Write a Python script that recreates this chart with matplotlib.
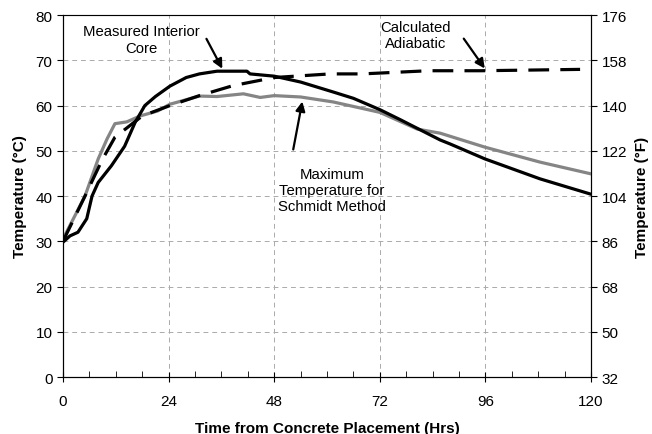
import numpy as np
import matplotlib.pyplot as plt
from matplotlib.ticker import MultipleLocator

plt.rcParams['font.family'] = ['Liberation Sans', 'DejaVu Sans']

# Measured interior core (black solid)
core_h = [0, 1.6, 3.4, 5.4, 6.6, 8, 11, 14, 16.4, 18.6, 21, 24.3, 28, 31, 35, 41.8, 42.5,
          48, 54, 61.4, 66, 72, 76.6, 85.7, 88, 95.9, 108.4, 120]
core_t = [29.8, 31.2, 32, 35, 40, 43, 46.7, 51, 56.3, 60, 62, 64.3, 66.2, 67, 67.6, 67.6, 67,
          66.5, 65.2, 63.0, 61.6, 59.1, 56.9, 52.4, 51.5, 48.2, 43.8, 40.4]

# Calculated adiabatic (black dashed)
adia_h = [0, 0.5, 5, 8.9, 11.8, 18, 24.3, 31, 38.6, 48, 60.7, 68, 83, 95, 117.5]
adia_t = [30, 31, 40, 48, 53, 57.7, 60, 62.2, 64.4, 66.2, 67, 67, 67.7, 67.7, 68]

# Maximum temperature for Schmidt method (gray)
schm_h = [0, 5, 8, 10, 11.8, 14.5, 17.5, 21.5, 24.3, 31, 35, 41, 44.8, 48, 54, 61.4,
          72, 80.5, 85.7, 95.9, 108.4, 120]
schm_t = [30.5, 40, 48.2, 52.6, 56, 56.4, 57.7, 58.8, 60.3, 62.1, 62, 62.6, 61.8, 62.2, 61.9, 60.8,
          58.5, 54.8, 53.9, 50.8, 47.5, 44.9]

c_ticks = [0, 10, 20, 30, 40, 50, 60, 70, 80]
f_labels = ['32', '50', '68', '86', '104', '122', '140', '158', '176']
x_ticks = [0, 24, 48, 72, 96, 120]

fig = plt.figure(figsize=(6.52, 4.35), dpi=100)
ax = fig.add_axes([0.0966, 0.131, 0.81, 0.832])

ax.plot(schm_h, schm_t, color='#858585', lw=2.3, zorder=3)
ax.plot(core_h, core_t, color='black', lw=2.3, zorder=4)
ax.plot(adia_h, adia_t, color='black', lw=2.3, dashes=(6.5, 3.5), zorder=5)

ax.set_xlim(0, 120)
ax.set_ylim(0, 80)
ax.set_xticks(x_ticks)
ax.xaxis.set_minor_locator(MultipleLocator(6))
ax.set_yticks(c_ticks)
ax.grid(True, which='major', color='#aaaaaa', ls=(0, (5, 4)), lw=0.7)
ax.tick_params(axis='x', which='major', direction='inout', length=7, labelsize=11, pad=9)
ax.tick_params(axis='x', which='minor', direction='in', length=4)
ax.tick_params(axis='y', direction='out', length=4, labelsize=11)
ax.spines['top'].set_color('#999999')
ax.spines['top'].set_linewidth(0.8)

ax2 = ax.twinx()
ax2.set_ylim(0, 80)
ax2.set_yticks(c_ticks)
ax2.set_yticklabels(f_labels)
ax2.tick_params(axis='y', direction='out', length=4, labelsize=11)

ax.set_xlabel('Time from Concrete Placement (Hrs)', fontsize=11, fontweight='bold', labelpad=9)
ax.set_ylabel('Temperature (\u00b0C)', fontsize=11, fontweight='bold', labelpad=6)
ax2.set_ylabel('Temperature (\u00b0F)', fontsize=11, fontweight='bold', labelpad=6)

arrow = dict(arrowstyle='-|>', color='black', lw=1.6, mutation_scale=14)
ax.annotate('Measured Interior\nCore', xy=(36.5, 67.6), xytext=(17.8, 74.6),
            ha='center', va='center', fontsize=10.7, linespacing=1.2)
ax.annotate('', xy=(36.5, 67.6), xytext=(32.3, 75.3), arrowprops=arrow)
ax.annotate('Calculated\nAdiabatic', xy=(96, 67.7), xytext=(80.2, 75.6),
            ha='center', va='center', fontsize=10.7, linespacing=1.2)
ax.annotate('', xy=(96.2, 67.7), xytext=(90.7, 75.3), arrowprops=arrow)
ax.annotate('Maximum\nTemperature for\nSchmidt Method', xy=(54, 61.5), xytext=(61.1, 41.3),
            ha='center', va='center', fontsize=10.7, linespacing=1.2)
ax.annotate('', xy=(54.5, 61.5), xytext=(52.2, 49.7), arrowprops=arrow)

fig.savefig('out.png', dpi=100)
